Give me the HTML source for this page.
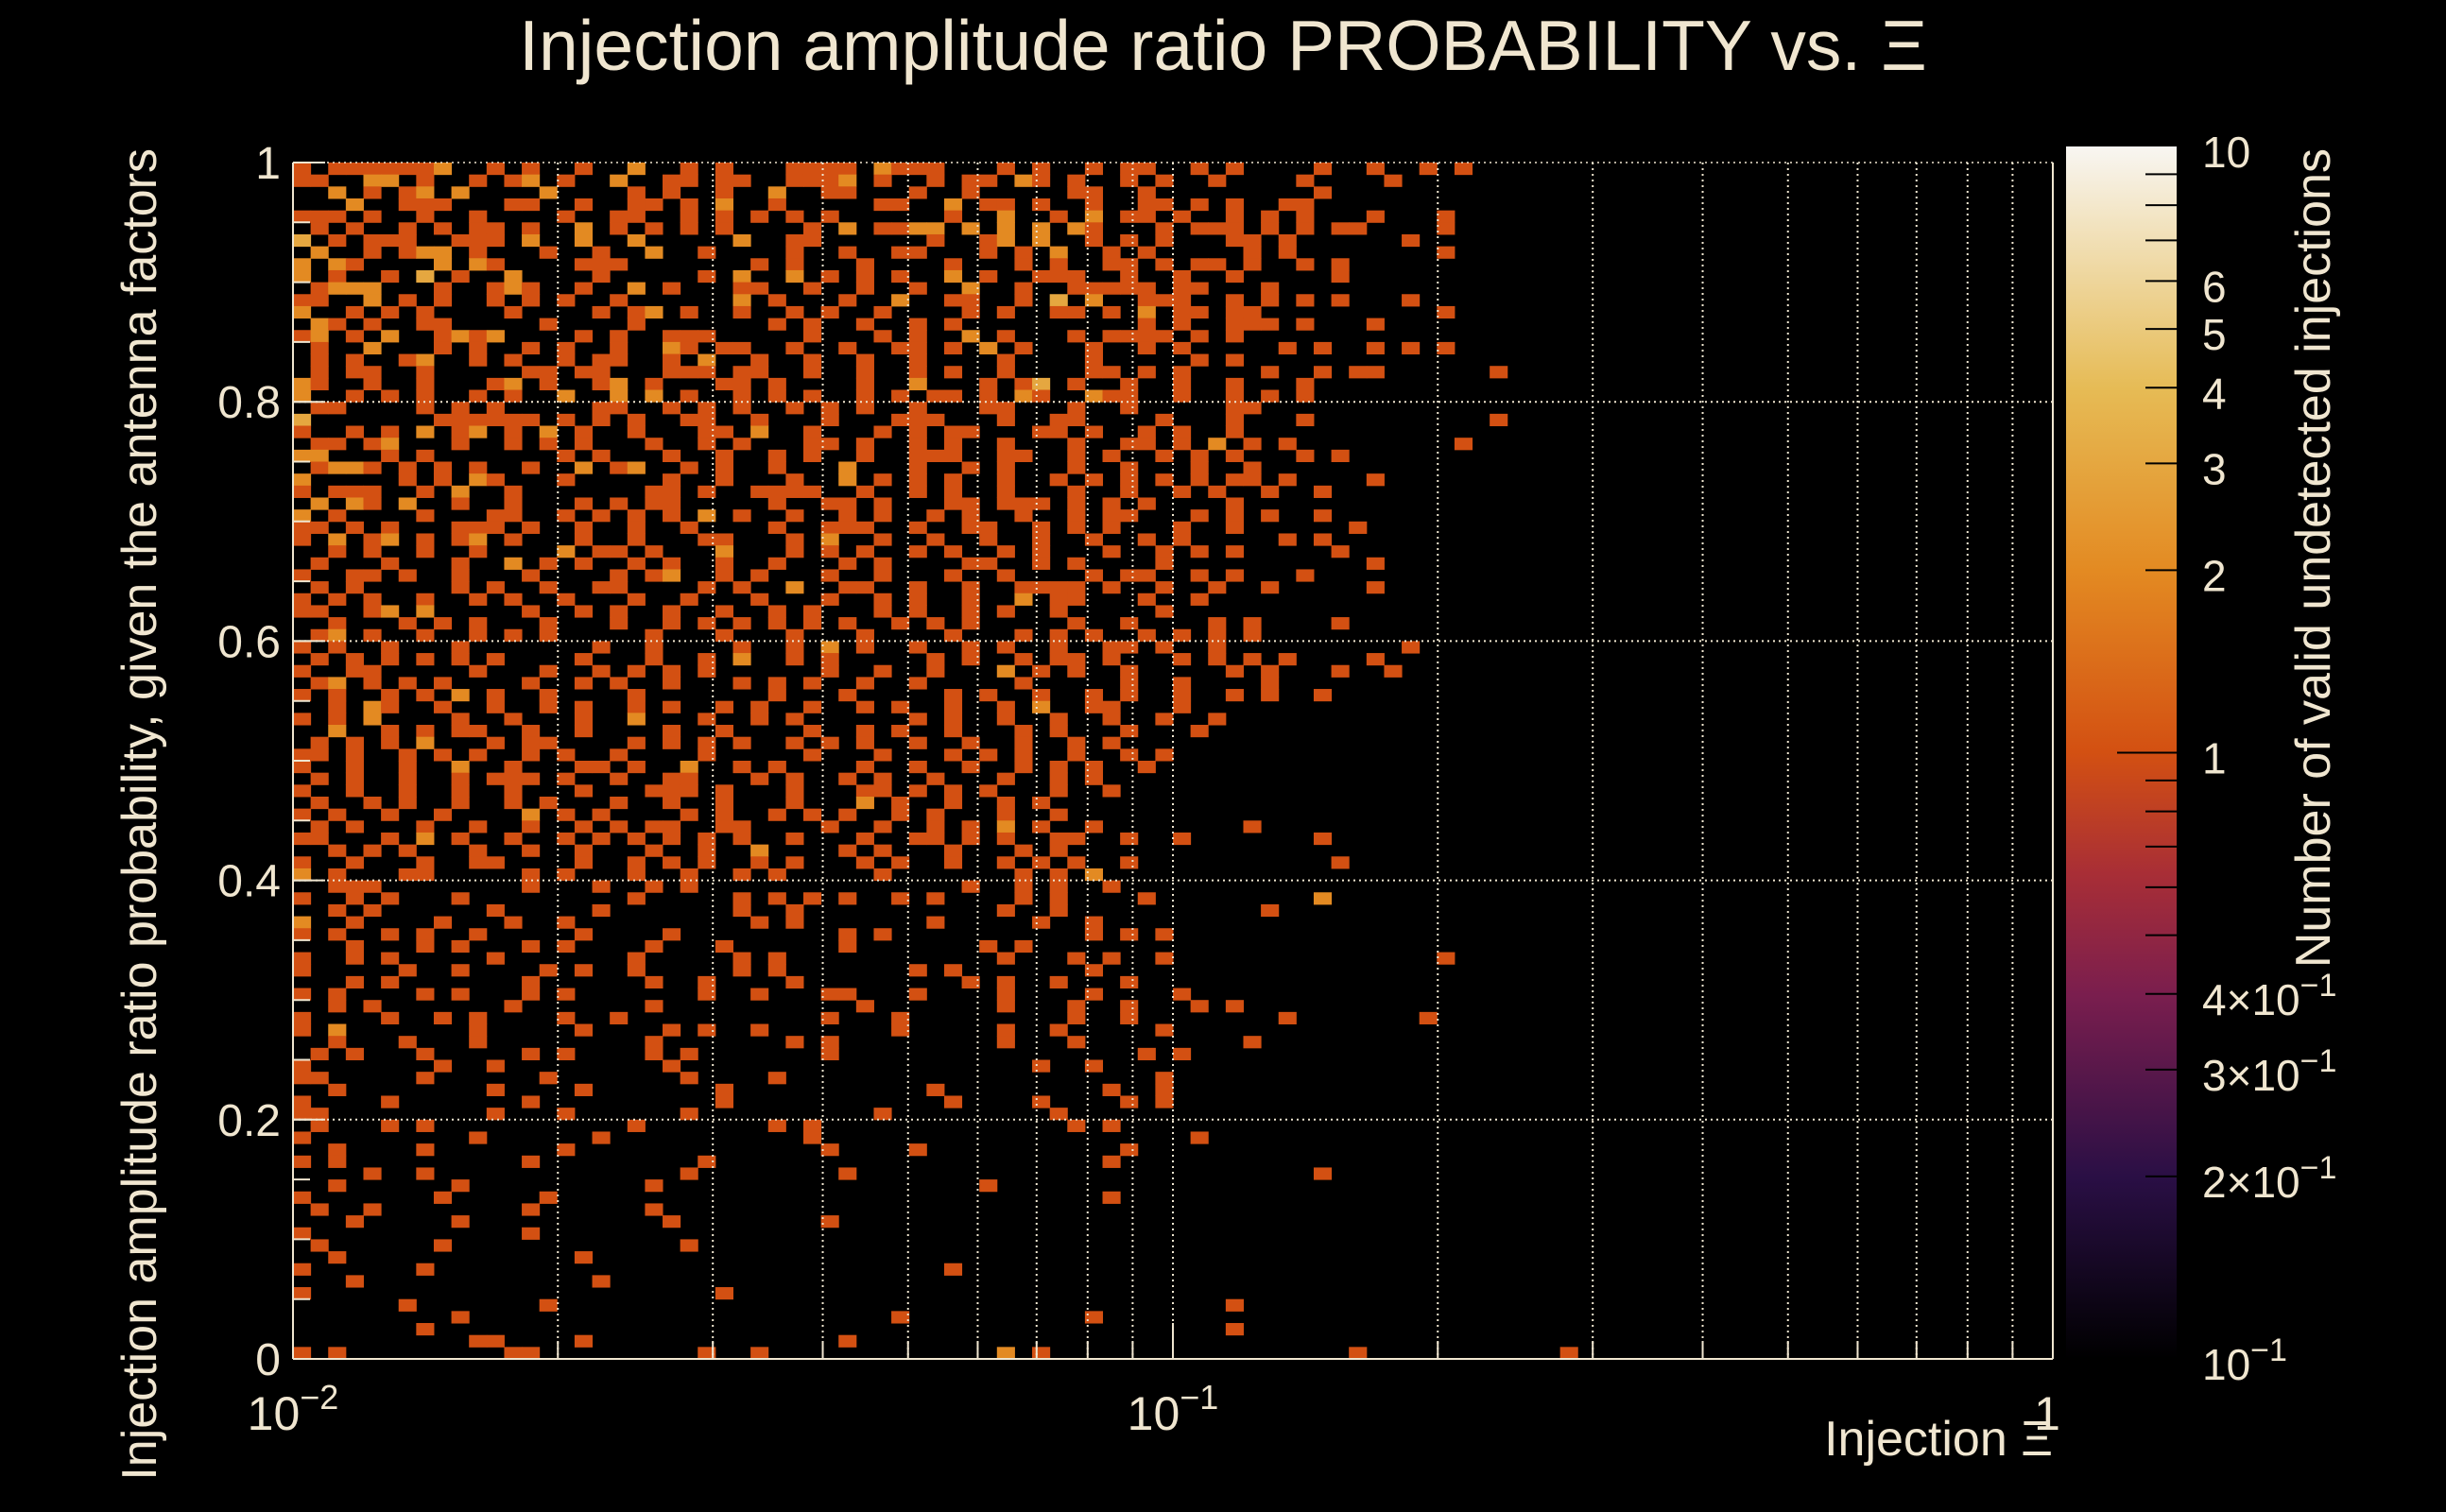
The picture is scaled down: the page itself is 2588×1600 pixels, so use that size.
<!DOCTYPE html>
<html><head><meta charset="utf-8"><title>Injection amplitude ratio PROBABILITY vs. Xi</title>
<style>
html,body{margin:0;padding:0;background:#000;}
svg{display:block;}
text{font-family:"Liberation Sans",sans-serif;fill:#f0e6d0;}
</style></head>
<body>
<svg id="chart" width="2588" height="1600" viewBox="0 0 2588 1600" xmlns="http://www.w3.org/2000/svg">
<defs>
<linearGradient id="cmap" x1="0" y1="1" x2="0" y2="0">
<stop offset="0" stop-color="#000000"/>
<stop offset="0.15" stop-color="#2a0f45"/>
<stop offset="0.3" stop-color="#7a1e4e"/>
<stop offset="0.4" stop-color="#a82e36"/>
<stop offset="0.5" stop-color="#d35012"/>
<stop offset="0.65" stop-color="#e38a22"/>
<stop offset="0.8" stop-color="#e6bb55"/>
<stop offset="1" stop-color="#f8f6f2"/>
</linearGradient>
</defs>
<rect x="0" y="0" width="2588" height="1600" fill="#000"/>
<text x="1294" y="74" font-size="75" text-anchor="middle">Injection amplitude ratio PROBABILITY vs.  Ξ</text>
<g id="cells"></g>
<g id="grid"></g>
<g id="axes"></g>
<rect x="2186" y="155" width="117" height="1283" fill="url(#cmap)"/>
<g id="cbar"></g>
<text transform="translate(165,157) rotate(-90)" font-size="52" text-anchor="end">Injection amplitude ratio probability, given the antenna factors</text>
<text x="2172" y="1540" font-size="52" text-anchor="end">Injection Ξ</text>
<text transform="translate(2465,157) rotate(-90)" font-size="52" text-anchor="end">Number of valid undetected injections</text>
</svg>
<script>
const xBins = 100;
const yBins = 100;
const xMin = 0.01, xMax = 1;
const yMin = 0, yMax = 1;
const cbMin = 0.1, cbMax = 10;
// Rows from top (y=0.99-1.00) downward; each char = count in log-x bin (0..)
const rows = [
"1.1111112..1.1..1..2..1.1...1111.2111...1.1..1.11..1.1....1..1..1.1......",
"11..22.1..1.12.1..2..11.11..1112.1..1.11.21.1..1.1..1....1....1..........",
"..2.1.12.2....2....1.1..1..2..11...1..1.....11..1.........1..............",
"...2..111...11..1..11.1.2..1.....11..2.11.1..1..11.1.1..11...............",
"111.1..1..1....1..11..1.1.1.1.1......1..2..1.2.11.1..1.1.1...1...1.......",
".1.1..1.1.11.1..2.1.1.1.1....1.2.1122.2.2.2.21...1.111.1.1.11....1.......",
"3.1.111..111.2..2..2.....2..11......1..12.2..1.1.1...11.1......1.........",
".2..1.122.1...1..1..2..1....1..1..11...1.1.2..1.1.....1.1........1.......",
"2.21....2.21....111.......1.1...1....1...1.1..11.1.11.1..1.1.............",
"2.1..1.3.1..2....1.....1.2..2.1.1.1..2.1..111..1..1..1.....1.............",
".1222...1..121..1..2.1...11..1..1..1..2..1..11111.11...1.................",
"11..2.1.1..1.1.1..1......2.1...1..2..11..1.3.2..111..1.1.1.1...1.........",
"2..1.1.1....1....1.12.1..1..1.1..1....1.1..11.1.2.11.11..........1.......",
".21.1..11.....1....1.......1.1..1..1.1..........1.1..111.1...1...........",
"12.1.2..1212....1.1..111.....1...1.1..2.1...1.1111.1.1...................",
".1..2...1.1..1.1..1..21.11..1..1..11.1.2.1...1..1.1.....1.1..1.1.1.......",
".1.1..12..1.1..1.11..1.2..1..1..1..1....1....1.....1.1...................",
".1.11..1.....11.11...111.11..1..1..1.1..1....11.1.1....1..1.11......1....",
"21..1..1...12.1..12.1...11.1....1..2...1.13.1..1..1..1...1...............",
"2..1.1.1..1.1..2..2.2.1..1.1.1..1.1.11.1.21..211..1..1.1.1...............",
".11....1.1.1.....11..1.1.1..1.1.1..1...11...1..1.....11..................",
"3.......111111.1.1.1..11..1...1...111...1..11....1...1...1..........1....",
"1..1.1.2.12.1.2.1..1...11.2..1...1.1.11...11.1..1.1..1...................",
".11.12...1..1.1.1...1..1.1...11.1..1.1..1...1..11.1.2.1.1.........1......",
"22...1.1.......1.1...1..1..1.1..1..111..11..1.1..1.1.1...1.1.............",
".1221.1.1.1..1..2.12..1.1..1...2...1..1.1...1..1...1..1..................",
"2.....1.1.21...1.....1..1...1..2.1.1.1..1..1.1.1.1.1.11.1....1...........",
"1.111..1.2..1.......11.1..1111..1..1.1..1...1..1..1.1..1..1..............",
".2.21.2..1..1...1.1.11.....1..11.1...11.111.1.1.1....1...................",
"2.1....1...11..1.1.1.1.2.1..1..1.1..1.1..1..1.11...1.1.1..1..............",
"11.1.1...111.1..1..1..1....1..111..1..11..1.1.1...1..1......1............",
"1.2.12.1.12.1...1..1...11...1.2..1..1..1..1..1..1.1.....1.1..............",
"..1.1..1..1....2.11.1...2...1.1.1..1.1..1.1...1..1.1.1.....1.............",
".1...1...1..2.1.1..1.1..1..1...1.1....11..1.1....1...........1...........",
"1..11.1..1...1....1.12..1.1...1..1...1..1....1.11..1.1...1...............",
".1.1.....1.1..1..11....1.1..2..11..1..1..1111.1..1..1..1.....1...........",
"1.1.1..1..1.1..1...1..1...1...1..1.1..1..2.11...1..1.....................",
"11..12.2.....1..1.1..1..1..1.1...1.1..1.1..1.....1.......................",
"..1...1.1.1...1...1..1.1.1.1.1.1..1.1.1.....1..1....1.1....1.............",
".12.1..1..1.1.1.....1...1...1...1....1...1.1.1..1.1.1.1..................",
"1.1..1...1.......1..1....1..1.2.1..1..1.1..1..11.1..1..........1.........",
".1.1.1.1.1.1....1...1..1.2..1.1.....1.1..1.11.1...1.1.1.1....1...........",
"1..11.....1...1..1.1.1.1......1..1..1...2.1.1..1.....1.1...1..1..........",
".12.1.1.1....1..1.1..1...1.1.1..1..1.....1.....1..1....1.................",
"1.1..1.1.2.1..1....1.......1...1.....1.1..1..1.1..1..1.1..1..............",
"..1.21..1..1..1.1..1.1..1.1..1..1.1..1..1.2..11...1......................",
"1.1.2....1..1...1..2...1..1.1......1.1..1..1..1..1..1....................",
"..2..1.1.11..1..1....1..1....1..1.1..1...1.1...1...1.....................",
".1.1.1.2...1.11....1.1.1.1..1.1.1..1..1..1..1.1..........................",
"11.1..1.1.1..1.1..1....1.....1...1...1.1.1..1..1.1.......................",
"1..1..1..2..1...11.1..2..1.1....1..1..1..1.1.1..1........................",
".1.1..1..1.111.1..1..11...1.1..1.1..1...1..1.1...........................",
"1..1..1..1..1...1...111.1...1...11.1.1.1...1..1..........................",
".1..1.1..1..1.1...1..1..1...1...2.1..1..1.1..............................",
"1.1..1..1....2.1.1....1.1..1.1.1..1.1...1..1.............................",
".1.1...1..1..1..1.1.11..11....1..1..1.1.2.1..1........1..................",
"11...1.2.1..1..1.1.1.1.1.1..1...1..11.1.1..11..1..1.......1..............",
"..1.1.1...1..1..1...1..1..2....1.1...1...1.1.............................",
"1..1...1..11....1..1.1.1..1.1...1.1..1..1.1.1..1...........1.............",
"2.1...11.....1.1...1..1..1.1.....1.......1.1.2...........................",
"..111........1...1..1.1...............1..1.1..1..........................",
"1..1.1...1.........1.....1.1.1.1..1.1....1.1....1.........2..............",
"..1.1......1.....1.......1..1...........1..1...........1.................",
"2..1....1...1..1..........1.1.......1.....1..1...........................",
"1.1..1.1..1.....1....1.........1.1...........1.1.1.......................",
"...1...1.1...1.1....1...1......1.......1.1...............................",
"1..1.1.....1.......1.....1.1............1...1.1..1...............1.......",
"1.....1..1....1.1..1.....1.1.......1.1.......1...........................",
"...1.1.......1......1..1....1.........1.1..1...1.........................",
"1.1....1.1...1.1.......1..1...11...1....1....1....1......................",
"..1.1.......1.......1...........1.......1...1..1...1.1...................",
"1....1..1.1....1..1...........1...1.........1..1........1.......1........",
"1.2.......1.....1....1.1..1.......1.....1..1.....1.......................",
"..1...1...1.........1.......1.1.........1...1.........1..................",
".1.1...1.....1.1....1.1.......1.................1.1......................",
"1.......1..1.........1....................1..1...........................",
"11.....1......1.......1....1.....................1.......................",
"..1........1....1.......1...........1.........1..1.......................",
"1....1.......1..........1............1....1....1.1.......................",
"11.........1...1......1..........1.........1.............................",
".1...1.1...........1.......1.1..............1.1..........................",
"1.........1......1...........1.....................1.....................",
"..1....1.......1..............1....1...........1.........................",
"1.1..........1.........1......................1..........................",
"....1..1..............1........1..........................1..............",
"..1......1..........1..................1.................................",
"1.......1.....1...............................1..........................",
".1..1........1......1....................................................",
"...1.....1...........1........1..........................................",
"1............1...........................................................",
".1......1.............1..................................................",
"..1.............1........................................................",
"1......1.............................1...................................",
"...1.............1.......................................................",
"1.......................1................................................",
"......1.......1......................................1...................",
".........1........................1..........1...........................",
".......1.............................................1...................",
"..........11....1..............1.........................................",
"1.1.........11.........1..1.............2.1.................1...........1"
];

const P = {left:310, right:2172, top:172, bottom:1438};
const NS = "http://www.w3.org/2000/svg";
function xPix(v){ return P.left + (Math.log10(v)-Math.log10(xMin))/(Math.log10(xMax)-Math.log10(xMin))*(P.right-P.left); }
function yPix(v){ return P.bottom - (v-yMin)/(yMax-yMin)*(P.bottom-P.top); }
function xEdge(i){ return Math.pow(10, Math.log10(xMin) + i*(Math.log10(xMax)-Math.log10(xMin))/xBins); }
function yEdge(j){ return yMin + j*(yMax-yMin)/yBins; }
function cbY(v){ return 1438 - (Math.log10(v)-Math.log10(cbMin))/(Math.log10(cbMax)-Math.log10(cbMin))*(1438-155); }
const stops=[[0,[0,0,0]],[0.15,[42,15,69]],[0.3,[122,30,78]],[0.4,[168,46,54]],[0.5,[211,80,18]],[0.65,[227,138,34]],[0.8,[230,187,85]],[1,[248,246,242]]];
function color(v){
  let t=(Math.log10(v)-Math.log10(cbMin))/(Math.log10(cbMax)-Math.log10(cbMin));
  t=Math.max(0,Math.min(1,t));
  for(let k=1;k<stops.length;k++){ if(t<=stops[k][0]){ const a=stops[k-1],b=stops[k]; const f=(t-a[0])/(b[0]-a[0]);
    const c=a[1].map((x,i)=>Math.round(x+(b[1][i]-x)*f)); return `rgb(${c[0]},${c[1]},${c[2]})`; } }
  return 'rgb(248,246,242)';
}
const cells=document.getElementById('cells');
rows.forEach((row,r)=>{
  const j = yBins-1-r;
  for(let i=0;i<row.length;i++){
    const ch=row[i]; if(ch==='.') continue;
    const v=parseInt(ch,10);
    const x0=xPix(xEdge(i)), x1=xPix(xEdge(i+1)), y1=yPix(yEdge(j)), y0=yPix(yEdge(j+1));
    const rc=document.createElementNS(NS,'rect');
    rc.setAttribute('x',x0.toFixed(2)); rc.setAttribute('y',y0.toFixed(2));
    rc.setAttribute('width',(x1-x0+0.5).toFixed(2)); rc.setAttribute('height',(y1-y0+0.5).toFixed(2));
    rc.setAttribute('fill',color(v));
    
    
    cells.appendChild(rc);
  }
});
const grid=document.getElementById('grid'), axes=document.getElementById('axes');
function line(g,x1,y1,x2,y2,stroke,w,dash,name){
  const l=document.createElementNS(NS,'line');
  l.setAttribute('x1',x1);l.setAttribute('y1',y1);l.setAttribute('x2',x2);l.setAttribute('y2',y2);
  l.setAttribute('stroke',stroke);l.setAttribute('stroke-width',w); if(dash) l.setAttribute('stroke-dasharray',dash);
  
  
  g.appendChild(l); return l;
}
function text(g,x,y,s,anchor,size,name){
  const t=document.createElementNS(NS,'text');
  t.setAttribute('x',x);t.setAttribute('y',y);t.setAttribute('text-anchor',anchor);t.setAttribute('font-size',size);
  t.innerHTML=s;
  
  
  g.appendChild(t); return t;
}
const xGridVals=[0.02,0.03,0.04,0.05,0.06,0.07,0.08,0.09,0.1,0.2,0.3,0.4,0.5,0.6,0.7,0.8,0.9];
xGridVals.forEach(v=>line(grid,xPix(v),P.top,xPix(v),P.bottom,'#f0e6d0',2,'2,4','x-grid-line'));
const yTickVals=[0,0.2,0.4,0.6,0.8,1];
const yTickLabels=['0','0.2','0.4','0.6','0.8','1'];
yTickVals.forEach((v,k)=>{ if(v>0&&v<1) line(grid,P.left,yPix(v),P.right,yPix(v),'#f0e6d0',2,'2,4','y-grid-line');
  line(axes,P.left,yPix(v),P.left+34,yPix(v),'#f0e6d0',2,null,'y-major-tick');
  text(axes,297,yPix(v)+17,yTickLabels[k],'end',48,'y-tick-label'); });
for(let v=0;v<=1.0001;v+=0.05){ line(axes,P.left,yPix(v),P.left+18,yPix(v),'#f0e6d0',2,null,'y-minor-tick'); }
[0.01,0.1,1].forEach(v=>line(axes,xPix(v),P.bottom,xPix(v),P.bottom-38,'#f0e6d0',2,null,'x-major-tick'));
for(let d=0.01;d<0.5;d*=10){ for(let m=2;m<10;m++){ line(axes,xPix(d*m),P.bottom,xPix(d*m),P.bottom-19,'#f0e6d0',2,null,'x-minor-tick'); } }
line(axes,P.left,P.top,P.left,P.bottom,'#f0e6d0',2,null,'y-axis-line');
line(axes,P.left,P.bottom,P.right,P.bottom,'#f0e6d0',2,null,'x-axis-line');
line(axes,P.right,P.top,P.right,P.bottom,'#f0e6d0',2,null,'right-frame');
line(axes,P.left,P.top,P.right,P.top,'#f0e6d0',1.5,'2,4','top-frame');
const xTickVals=[0.01,0.1,1];
const xTickLabels=['10<tspan dy="-22" font-size="36">−2</tspan>','10<tspan dy="-22" font-size="36">−1</tspan>','1'];
xTickVals.forEach((v,k)=>text(axes,xPix(v)+(k==2?-6:0),1513,xTickLabels[k],'middle',50,'x-tick-label'));
const cb=document.getElementById('cbar');
const cbTickVals=[0.1,0.2,0.3,0.4,1,2,3,4,5,6,10];
const cbTickLabels=['10<tspan dy="-20" font-size="34">−1</tspan>','2×10<tspan dy="-20" font-size="34">−1</tspan>','3×10<tspan dy="-20" font-size="34">−1</tspan>','4×10<tspan dy="-20" font-size="34">−1</tspan>','1','2','3','4','5','6','10'];
cbTickVals.forEach((v,k)=>text(cb,2330,cbY(v)+22,cbTickLabels[k],'start',46,'color-bar-tick-label'));
[0.2,0.3,0.4,0.5,0.6,0.7,0.8,0.9,2,3,4,5,6,7,8,9].forEach(v=>line(cb,2270,cbY(v),2303,cbY(v),'#000',2,null,'color-bar-minor-tick'));
[1].forEach(v=>line(cb,2240,cbY(v),2303,cbY(v),'#000',2,null,'color-bar-major-tick'));
</script>
</body></html>
